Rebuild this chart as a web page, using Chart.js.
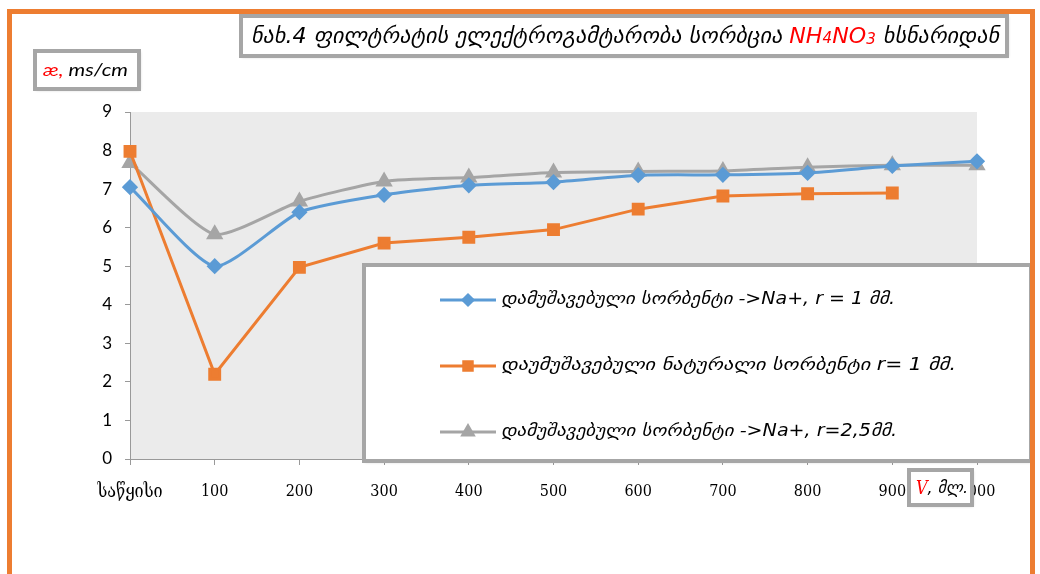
<!DOCTYPE html>
<html>
<head>
<meta charset="utf-8">
<script src="https://cdn.jsdelivr.net/npm/chart.js@4.4.1/dist/chart.umd.min.js"></script>
<style>
  html, body { margin: 0; padding: 0; background: #fff; }
  #wrap { width: 1040px; height: 574px; }
</style>
</head>
<body>
<div id="wrap"><canvas id="chart" width="1040" height="574"></canvas></div>
<script>
// categories on the x axis (V, ml)
const categories = ['საწყისი', '100', '200', '300', '400', '500', '600', '700', '800', '900', '1000'];

// conductivity, ms/cm
const treatedR1 = [7.05, 5.0, 6.4, 6.85, 7.1, 7.18, 7.36, 7.37, 7.42, 7.6, 7.72];
const naturalR1 = [7.98, 2.2, 4.97, 5.6, 5.75, 5.95, 6.48, 6.82, 6.88, 6.9, null];
const treatedR25 = [7.68, 5.83, 6.68, 7.2, 7.3, 7.43, 7.46, 7.47, 7.57, 7.62, 7.62];

const seriesNames = [
  'დამუშავებული სორბენტი ->Na+, r = 1 მმ.',
  'დაუმუშავებული ნატურალი სორბენტი r= 1 მმ.',
  'დამუშავებული სორბენტი ->Na+, r=2,5მმ.'
];

const yTicks = { min: 0, max: 9, step: 1 };

const BLUE = '#5b9bd5';
const ORANGE = '#ed7d31';
const GRAY = '#a5a5a5';
const BOX = '#a6a6a6';
const GEO_IT = '"DejaVu Sans", sans-serif';

// draw text made of coloured pieces, squeezed to a width if given
function drawRich(ctx, parts, x, y, fitWidth) {
  ctx.save();
  ctx.textBaseline = 'middle';
  ctx.textAlign = 'left';
  let total = 0;
  parts.forEach(p => { ctx.font = p.font; total += ctx.measureText(p.text).width; });
  let sx = 1;
  if (fitWidth && total > 0) sx = fitWidth / total;
  ctx.translate(x, y);
  ctx.scale(sx, 1);
  let cx = 0;
  parts.forEach(p => {
    ctx.font = p.font;
    ctx.fillStyle = p.color;
    ctx.fillText(p.text, cx, p.dy || 0);
    cx += ctx.measureText(p.text).width;
  });
  ctx.restore();
}

function drawBox(ctx, x, y, w, h) {
  ctx.save();
  ctx.shadowColor = 'rgba(0,0,0,0.25)';
  ctx.shadowBlur = 3;
  ctx.shadowOffsetX = 1;
  ctx.shadowOffsetY = 1;
  ctx.fillStyle = '#fff';
  ctx.fillRect(x, y, w, h);
  ctx.restore();
  ctx.save();
  ctx.strokeStyle = BOX;
  ctx.lineWidth = 4;
  ctx.strokeRect(x, y, w, h);
  ctx.restore();
}

const decorations = {
  id: 'decorations',
  beforeDraw(chart) {
    const { ctx, chartArea: a } = chart;
    ctx.save();
    ctx.fillStyle = '#fff';
    ctx.fillRect(0, 0, chart.width, chart.height);
    ctx.fillStyle = '#ebebeb';
    ctx.fillRect(a.left, a.top, a.right - a.left, a.bottom - a.top);
    ctx.restore();
  },
  afterDraw(chart) {
    const ctx = chart.ctx;

    // legend box laid over the plot
    drawBox(ctx, 364, 265, 667, 196);
    const rows = [300, 366, 432];
    const widths = [394, 455, 396];
    chart.data.datasets.forEach((ds, i) => {
      const yy = rows[i];
      ctx.save();
      ctx.strokeStyle = ds.borderColor;
      ctx.lineWidth = 3;
      ctx.beginPath();
      ctx.moveTo(440, yy);
      ctx.lineTo(496, yy);
      ctx.stroke();
      ctx.fillStyle = ds.backgroundColor;
      ctx.strokeStyle = ds.borderColor;
      Chart.helpers.drawPoint(ctx, {
        pointStyle: ds.pointStyle, radius: ds.pointRadius - 1, borderWidth: 1
      }, 468, yy);
      ctx.restore();
      drawRich(ctx, [{ text: ds.label, color: '#000', font: 'oblique 17px ' + GEO_IT }], 501, yy, widths[i]);
    });

    // title box
    drawBox(ctx, 241, 16, 766, 40);
    const tf = 'oblique 22px ' + GEO_IT;
    const tfs = 'oblique 15px ' + GEO_IT;
    drawRich(ctx, [
      { text: 'ნახ.4 ფილტრატის ელექტროგამტარობა სორბცია ', color: '#000', font: tf },
      { text: 'NH', color: '#ff0000', font: tf },
      { text: '4', color: '#ff0000', font: tfs, dy: 2 },
      { text: 'NO', color: '#ff0000', font: tf },
      { text: '3', color: '#ff0000', font: tfs, dy: 3 },
      { text: ' ხსნარიდან', color: '#000', font: tf }
    ], 251, 37, 748);

    // y axis title box
    drawBox(ctx, 35, 51, 104, 38);
    const yf = 'italic 17px Lato, "Open Sans", sans-serif';
    drawRich(ctx, [
      { text: 'æ,', color: '#ff0000', font: yf },
      { text: ' ms/cm', color: '#000', font: yf }
    ], 43, 71, 85);

    // x axis title box
    drawBox(ctx, 909, 470, 63, 35);
    drawRich(ctx, [
      { text: 'V', color: '#ff0000', font: 'italic 18px "DejaVu Serif Condensed", serif' },
      { text: ', მლ.', color: '#000', font: 'oblique 16px ' + GEO_IT }
    ], 916, 489, 52);

    // orange frame
    ctx.save();
    ctx.strokeStyle = ORANGE;
    ctx.lineWidth = 5;
    ctx.beginPath();
    ctx.moveTo(9.5, 574);
    ctx.lineTo(9.5, 11.5);
    ctx.lineTo(1032.5, 11.5);
    ctx.lineTo(1032.5, 574);
    ctx.stroke();
    ctx.restore();
  }
};

const ctx = document.getElementById('chart').getContext('2d');
new Chart(ctx, {
  type: 'line',
  data: {
    labels: categories,
    datasets: [
      {
        label: seriesNames[0],
        data: treatedR1,
        borderColor: BLUE,
        backgroundColor: BLUE,
        borderWidth: 3,
        pointStyle: 'rectRot',
        pointRadius: 6,
        tension: 0.2
      },
      {
        label: seriesNames[1],
        data: naturalR1,
        borderColor: ORANGE,
        backgroundColor: ORANGE,
        borderWidth: 3,
        pointStyle: 'rect',
        pointRadius: 7,
        tension: 0
      },
      {
        label: seriesNames[2],
        data: treatedR25,
        borderColor: GRAY,
        backgroundColor: GRAY,
        borderWidth: 3,
        pointStyle: 'triangle',
        pointRadius: 7,
        tension: 0.2
      }
    ]
  },
  options: {
    responsive: false,
    animation: false,
    devicePixelRatio: 1,
    layout: { padding: { top: 112, right: 63, left: 0, bottom: 0 } },
    plugins: {
      legend: { display: false },
      title: { display: false },
      tooltip: { enabled: false }
    },
    scales: {
      x: {
        offset: false,
        afterFit: s => { s.height = 115; },
        grid: { drawOnChartArea: false, drawTicks: true, tickLength: 6, color: '#999' },
        border: { display: true, color: '#999', width: 1 },
        ticks: {
          color: '#000',
          font: c => ({
            family: '"DejaVu Serif Condensed", "DejaVu Sans Condensed", serif',
            size: c.index === 0 ? 18 : 16
          }),
          padding: 17,
          maxRotation: 0,
          autoSkip: false
        }
      },
      y: {
        min: yTicks.min,
        max: yTicks.max,
        afterFit: s => { s.width = 130; },
        grid: { drawOnChartArea: false, drawTicks: true, tickLength: 5, color: '#999' },
        border: { display: true, color: '#999', width: 1 },
        ticks: {
          stepSize: yTicks.step,
          color: '#000',
          font: { family: 'Lato, "Open Sans", sans-serif', size: 17 },
          padding: 13
        }
      }
    }
  },
  plugins: [decorations]
});
</script>
</body>
</html>
